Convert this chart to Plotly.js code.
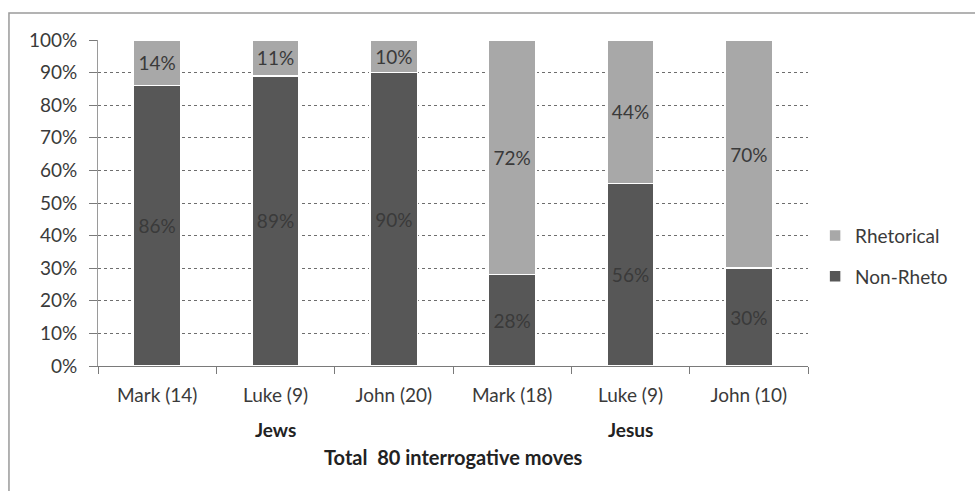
<!DOCTYPE html>
<html>
<head>
<meta charset="utf-8">
<script src="https://cdn.plot.ly/plotly-3.0.1.min.js"></script>
<style>
  html, body { margin: 0; padding: 0; background: #ffffff; }
  #chart { width: 975px; height: 491px; }
</style>
</head>
<body>
<div id="chart"></div>
<script>
// Question types by gospel, split by who is asking
const categories = ["Mark (14)", "Luke (9)", "John (20)", "Mark (18)", "Luke (9)", "John (10)"];
const groups = ["Jews", "Jesus"];
const groupCenters = [1, 4];
const nonRheto = [86, 89, 90, 28, 56, 30];
const rhetorical = [14, 11, 10, 72, 44, 70];
const yTicks = [0, 10, 20, 30, 40, 50, 60, 70, 80, 90, 100];

const positions = categories.map((_, i) => i);
const boundaries = categories.map((_, i) => i - 0.5).concat([categories.length - 0.5]);
const pct = v => v + "%";

const font = "Lato, 'Open Sans', 'DejaVu Sans', sans-serif";
const inkColor = "#3a3a3a";

const common = {
  type: "bar",
  x: positions,
  texttemplate: "%{text}",
  textposition: "inside",
  insidetextanchor: "middle",
  textangle: 0,
  constraintext: "none",
  textfont: { family: font, size: 19, color: inkColor },
  hoverinfo: "skip"
};

const traces = [
  Object.assign({}, common, {
    name: "Non-Rheto",
    legendgroup: "a",
    legendrank: 2,
    y: nonRheto,
    text: nonRheto.map(pct),
    marker: { color: "#575757", line: { color: "#ffffff", width: 1.5 } }
  }),
  Object.assign({}, common, {
    name: "Rhetorical",
    legendgroup: "b",
    legendrank: 1,
    y: rhetorical,
    text: rhetorical.map(pct),
    marker: { color: "#a8a8a8", line: { color: "#ffffff", width: 1.5 } }
  })
];

const annotations = groups.map((g, i) => ({
  text: "<b>" + g + "</b>",
  x: groupCenters[i], xref: "x",
  y: -0.196, yref: "paper",
  xanchor: "center", yanchor: "middle",
  showarrow: false,
  font: { family: font, size: 19, color: "#222" }
}));
annotations.push({
  text: "<b>Total\u00a0 80 interrogative moves</b>",
  x: 0.5, xref: "paper",
  y: -0.279, yref: "paper",
  xanchor: "center", yanchor: "middle",
  showarrow: false,
  font: { family: font, size: 20, color: "#222" }
});

const layout = {
  width: 975,
  height: 491,
  margin: { l: 98, r: 167, t: 40, b: 125 },
  paper_bgcolor: "#ffffff",
  plot_bgcolor: "#ffffff",
  barmode: "stack",
  bargap: 0.6,
  font: { family: font, size: 19, color: inkColor },
  showlegend: true,
  legend: {
    x: 1.01, xanchor: "left",
    y: 0.337, yanchor: "middle",
    traceorder: "grouped",
    tracegroupgap: 13,
    font: { family: font, size: 19, color: inkColor },
    itemwidth: 30
  },
  xaxis: {
    range: [-0.5, categories.length - 0.5],
    tickmode: "array",
    tickvals: positions,
    ticktext: categories,
    ticks: "",
    ticklabelstandoff: 12,
    showgrid: false,
    zeroline: false,
    showline: true,
    linecolor: "#7a7a7a",
    linewidth: 1,
    minor: {
      tickmode: "array",
      tickvals: boundaries,
      ticks: "outside",
      ticklen: 7,
      tickcolor: "#7a7a7a",
      tickwidth: 1,
      showgrid: false
    },
    fixedrange: true
  },
  yaxis: {
    range: [0, 100],
    tickmode: "array",
    tickvals: yTicks,
    ticktext: yTicks.map(pct),
    ticks: "outside",
    ticklen: 8,
    tickcolor: "#7a7a7a",
    ticklabelstandoff: 8,
    showgrid: true,
    gridcolor: "#6e6e6e",
    griddash: "dot",
    gridwidth: 1,
    zeroline: false,
    showline: true,
    linecolor: "#9a9a9a",
    linewidth: 1,
    fixedrange: true
  },
  annotations: annotations,
  shapes: [{
    type: "rect",
    xref: "paper", yref: "paper",
    x0: -0.1254, x1: 1.25,
    y0: -0.42, y1: 1.0828,
    line: { color: "#9a9a9a", width: 1.5 },
    fillcolor: "rgba(0,0,0,0)",
    layer: "below"
  }]
};

Plotly.newPlot("chart", traces, layout, { staticPlot: true, displayModeBar: false });
</script>
</body>
</html>
